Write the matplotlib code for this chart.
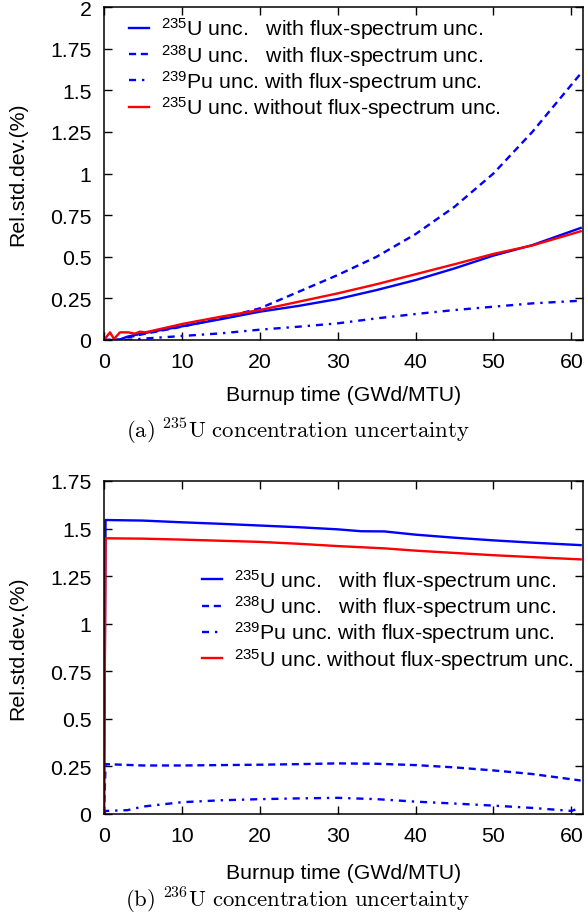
import matplotlib
matplotlib.use("Agg")
import matplotlib.pyplot as plt
from matplotlib.ticker import FuncFormatter

plt.rcParams['font.family'] = ['Liberation Sans', 'DejaVu Sans']
plt.rcParams['mathtext.fontset'] = 'custom'
plt.rcParams['mathtext.rm'] = 'Liberation Sans'
plt.rcParams['mathtext.it'] = 'Liberation Sans:italic'
plt.rcParams['mathtext.bf'] = 'Liberation Sans:bold'

# ---------------- data: panel (a) 235U concentration uncertainty ----------------
a_x_u235 = [0, 1, 2, 3, 5, 10, 15, 20, 25, 30, 35, 40, 45, 50, 55, 61.2]
a_u235 = [0, 0, 0.002, 0.02, 0.04, 0.082, 0.125, 0.17, 0.205, 0.246, 0.30, 0.36, 0.43, 0.507, 0.57, 0.673]

a_x_u238 = [0, 1, 2, 3, 5, 10, 15, 20, 25, 30, 35, 40, 45, 50, 55, 61.2]
a_u238 = [0, 0, 0.002, 0.015, 0.035, 0.08, 0.13, 0.19, 0.29, 0.39, 0.50, 0.636, 0.80, 1.0, 1.25, 1.6]

a_x_pu239 = [0, 3, 5, 10, 15, 20, 25, 30, 35, 40, 45, 50, 55, 61.2]
a_pu239 = [0, 0, 0.008, 0.024, 0.04, 0.062, 0.08, 0.10, 0.13, 0.156, 0.18, 0.20, 0.22, 0.236]

a_x_nofs = [0, 0.77, 1.28, 2.05, 3.1, 3.97, 4.6, 5.3, 9.1, 10, 15, 20, 25, 30, 35, 40, 45, 50, 55, 61.2]
a_nofs = [0, 0.046, 0.006, 0.046, 0.046, 0.038, 0.05, 0.046, 0.086, 0.096, 0.14, 0.18, 0.23, 0.28, 0.335, 0.395, 0.455, 0.517, 0.568, 0.653]

# ---------------- data: panel (b) 236U concentration uncertainty ----------------
b_x = [0, 0.2, 5, 10, 15, 20, 25, 30, 33, 36, 40, 45, 50, 55, 61.2]
b_u235 = [0, 1.545, 1.542, 1.533, 1.525, 1.516, 1.507, 1.496, 1.486, 1.485, 1.468, 1.452, 1.438, 1.426, 1.413]
b_nofs = [0, 1.449, 1.447, 1.442, 1.436, 1.43, 1.42, 1.408, 1.402, 1.396, 1.384, 1.372, 1.36, 1.35, 1.338]

b_x_u238 = [0, 0.2, 5, 10, 15, 20, 25, 30, 35, 40, 45, 50, 55, 61.2]
b_u238 = [0, 0.262, 0.255, 0.255, 0.257, 0.259, 0.262, 0.266, 0.264, 0.257, 0.245, 0.229, 0.21, 0.176]

b_x_pu239 = [0, 0.2, 3, 5, 10, 15, 20, 25, 30, 35, 40, 45, 50, 55, 60, 61.2]
b_pu239 = [0, 0.016, 0.02, 0.039, 0.062, 0.072, 0.078, 0.082, 0.085, 0.078, 0.065, 0.055, 0.044, 0.032, 0.016, 0.033]

labels = [r"$^{235}$U unc.   with flux-spectrum unc.",
          r"$^{238}$U unc.   with flux-spectrum unc.",
          r"$^{239}$Pu unc. with flux-spectrum unc.",
          r"$^{235}$U unc. without flux-spectrum unc."]

a_yticks = [0, 0.25, 0.5, 0.75, 1, 1.25, 1.5, 1.75, 2]
b_yticks = [0, 0.25, 0.5, 0.75, 1, 1.25, 1.5, 1.75]
xticks = [0, 10, 20, 30, 40, 50, 60]

captions = [r"$\mathrm{(a)\ {}^{235}U\ concentration\ uncertainty}$",
            r"$\mathrm{(b)\ {}^{236}U\ concentration\ uncertainty}$"]

FS = 15.3
BLUE = '#0000ff'
RED = '#ff0000'
LW = 1.7
dashed = (0, (3, 2))
dashdot = (0, (3, 2.5, 1, 2.5))

fig = plt.figure(figsize=(5.87, 9.2), dpi=100)
ax1 = fig.add_axes([104/587, 1-341/920, 479/587, 333/920])
ax2 = fig.add_axes([104/587, 1-815/920, 479/587, 333/920])

def style(ax, yticks, ymax):
    ax.set_xlim(0, 61.5)
    ax.set_ylim(0, ymax)
    ax.set_xticks(xticks)
    ax.set_yticks(yticks)
    ax.yaxis.set_major_formatter(FuncFormatter(lambda v, p: '%g' % v))
    ax.tick_params(direction='in', top=True, right=True, length=6, width=1,
                   labelsize=FS, pad=9)
    for s in ax.spines.values():
        s.set_linewidth(1.1)
    ax.set_xlabel('Burnup time (GWd/MTU)', fontsize=FS)
    ax.set_ylabel('Rel.std.dev.(%)', fontsize=FS)
    ax.yaxis.set_label_coords(-0.161, 0.5)

style(ax1, a_yticks, 2)
style(ax2, b_yticks, 1.75)
ax1.xaxis.set_label_coords(0.5, -0.135)
ax2.xaxis.set_label_coords(0.5, -0.148)

l1, = ax1.plot(a_x_u235, a_u235, color=BLUE, lw=LW)
l2, = ax1.plot(a_x_u238, a_u238, color=BLUE, lw=LW, linestyle=dashed)
l3, = ax1.plot(a_x_pu239, a_pu239, color=BLUE, lw=LW, linestyle=dashdot)
l4, = ax1.plot(a_x_nofs, a_nofs, color=RED, lw=LW)

m1, = ax2.plot(b_x, b_u235, color=BLUE, lw=LW)
m2, = ax2.plot(b_x_u238, b_u238, color=BLUE, lw=LW, linestyle=dashed)
m3, = ax2.plot(b_x_pu239, b_pu239, color=BLUE, lw=LW, linestyle=dashdot)
m4, = ax2.plot(b_x, b_nofs, color=RED, lw=LW)

leg_kw = dict(frameon=False, fontsize=FS, handlelength=0.95, handletextpad=0.55,
              labelspacing=0.02, borderpad=0, borderaxespad=0, loc='upper left')
ax1.legend([l1, l2, l3, l4], labels, bbox_to_anchor=(0.052, 0.975), **leg_kw)
ax2.legend([m1, m2, m3, m4], labels, bbox_to_anchor=(0.204, 0.742), **leg_kw)

fig.text(297.5/587, 1-431/920, captions[0], ha='center', va='center',
         fontsize=16.4, math_fontfamily='cm')
fig.text(297.5/587, 1-901/920, captions[1], ha='center', va='center',
         fontsize=16.4, math_fontfamily='cm')

fig.savefig('out.png', dpi=100)
